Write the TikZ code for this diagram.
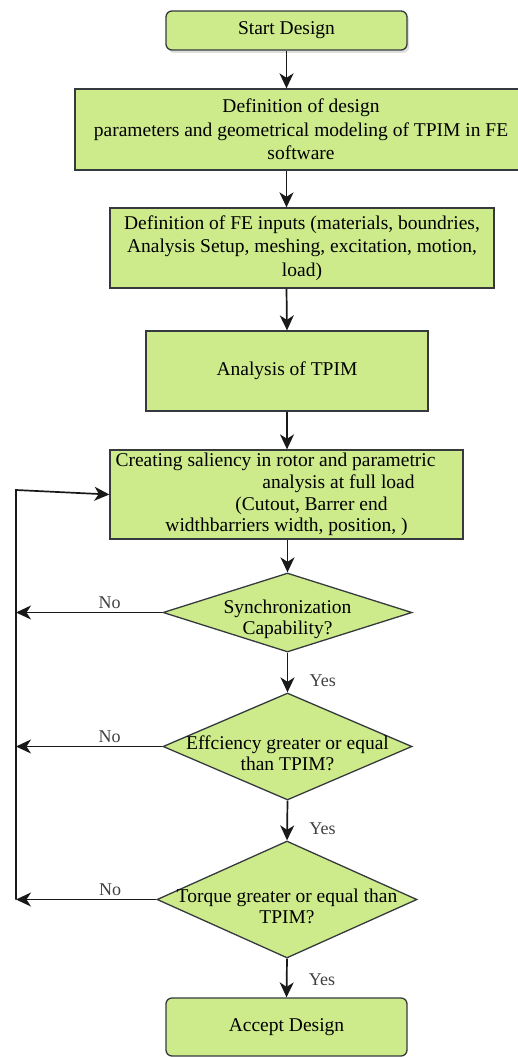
\documentclass[tikz,border=0pt]{standalone}
\usepackage{fontspec}
\setmainfont{Liberation Serif}
\usetikzlibrary{positioning}
\usetikzlibrary{shapes.geometric}
\usetikzlibrary{arrows.meta}
\usetikzlibrary{shadows}
\definecolor{boxgreen}{HTML}{CDEB8B}
\definecolor{boxline}{HTML}{36393D}

\begin{document}
\begin{tikzpicture}[x=1pt, y=-1pt,  font=\rmfamily\fontsize{19.5}{23.5}\selectfont,  block/.style={    draw=boxline,    fill=boxgreen,    line width=1.3pt,    rectangle,    inner sep=0pt,    align=center  },  term/.style={    block,    rounded corners=6pt  },  decision/.style={    draw=boxline,    fill=boxgreen,    line width=1.3pt,    diamond,    inner sep=0pt  },  question/.style={    align=center,    font=\rmfamily\fontsize{19.5}{21}\selectfont,    yshift=-7pt  },  arrow/.style={    line width=1.7pt,    draw=black!90,    -{Stealth[length=15pt,width=14pt,inset=4.5pt]}  },  answer/.style={    font=\rmfamily\fontsize{18}{22}\selectfont,    text=black!75  }]
		\useasboundingbox (0,0) rectangle (517,1057);
		% Nodes
		\node[term, minimum width=241pt, minimum height=39pt, drop shadow={shadow xshift=2pt, shadow yshift=-3pt, opacity=0.25}] (start) at (286.5,30.5) {Start Design};
		\node[block, minimum width=452pt, minimum height=81pt] (defparam) at (301,129.5) {Definition of design\\parameters and geometrical modeling of TPIM in FE\\software};
		\node[block, minimum width=384pt, minimum height=80pt] (feinput) at (302,248) {Definition of FE inputs (materials, boundries,\\Analysis Setup, meshing, excitation, motion,\\load)};
		\node[block, minimum width=282pt, minimum height=80pt] (analysis) at (287,371) {Analysis of TPIM};
		\node[block, minimum width=353pt, minimum height=89pt, font=\rmfamily\fontsize{19.5}{21.7}\selectfont] (saliency) at (286.5,494.5) {Creating saliency in rotor and parametric\hspace*{22pt}\\\hspace*{104pt}analysis at full load\\\hspace*{50pt}(Cutout, Barrer end\\widthbarriers width, position, )};
		\node[decision, minimum width=249pt, minimum height=79pt, label={[question]center:Synchronization\\Capability?}] (sync) at (287.5,612.5) {};
		\node[decision, minimum width=249pt, minimum height=107pt, label={[question]center:Effciency greater or equal\\than TPIM?}] (eff) at (287.5,746.5) {};
		\node[decision, minimum width=260pt, minimum height=117pt, label={[question]center:Torque greater or equal than\\TPIM?}] (torque) at (287,899.5) {};
		\node[term, minimum width=241pt, minimum height=58pt] (accept) at (286.5,1027) {Accept Design};
		\coordinate (looptop) at (16,490);
		\coordinate (loopbot) at (16,899.5);
		% Arrows
		\draw[arrow] (start.south) -- (start.south |- defparam.north);
		\draw[arrow] (defparam.south -| start.south) -- (feinput.north -| start.south);
		\draw[arrow] (feinput.south -| start.south) -- (analysis.north);
		\draw[arrow] (analysis.south) -- (saliency.north -| analysis.south);
		\draw[arrow] (saliency.south -| sync.north) -- (sync.north);
		\draw[arrow] (sync.south) -- (eff.north) node[answer, pos=0.7, right=18pt] {Yes};
		\draw[arrow] (eff.south) -- (torque.north) node[answer, pos=0.7, right=18pt] {Yes};
		\draw[arrow] (torque.south) -- (accept.north) node[answer, pos=0.55, right=18pt] {Yes};
		% Loop back
		\draw[arrow] (sync.west) -- (sync.west -| loopbot) node[answer, pos=0.36, above] {No};
		\draw[arrow] (eff.west) -- (eff.west -| loopbot) node[answer, pos=0.36, above] {No};
		\draw[arrow] (torque.west) -- (loopbot) node[answer, pos=0.33, above] {No};
		\draw[arrow] (loopbot) -- (looptop) -- (saliency.west);
	\end{tikzpicture}
\end{document}
